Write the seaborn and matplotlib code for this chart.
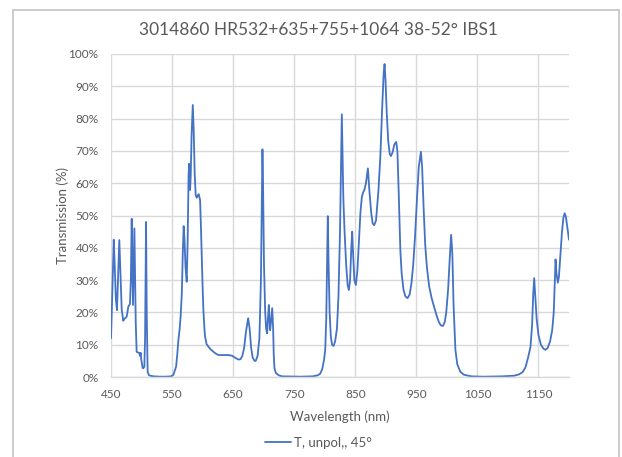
import matplotlib
matplotlib.use("Agg")
import matplotlib.pyplot as plt
from matplotlib.patches import Rectangle
from matplotlib.ticker import PercentFormatter, MultipleLocator
import seaborn as sns
import pandas as pd

# Measured transmission spectrum (wavelength in nm, transmission in %)
wavelength = [
    450, 452, 454.5, 456, 458, 459.8, 461.5, 463.6, 465.5, 467.5, 470, 472, 475.7,
    478.4, 481, 482.5, 483.9, 485, 486, 487.2, 488.3, 489.5, 490.5, 492, 494, 496.4,
    497.5, 498.6, 499.5, 501.8, 503, 504.6, 505.8, 507.4, 508.5, 510, 512, 514, 520,
    530, 540, 548, 552, 556.6, 558.5, 560.4, 562.5, 564, 566, 567.5, 569, 570.5, 572,
    574, 575.5, 577, 577.9, 578.8, 579.5, 580.5, 582, 583.9, 585.5, 587, 588.7, 590.5,
    592, 593.6, 595.9, 597.5, 598.6, 600, 601.3, 603, 604, 606.5, 609.5, 613, 617.7,
    622, 626, 635, 642, 648, 653, 658.7, 662, 665, 668, 671, 674.6, 677, 679.5, 682,
    685, 687, 690, 693, 695.5, 697, 698, 699, 700.5, 702.5, 704, 705.7, 707, 708.5,
    709.5, 710.6, 712, 714, 715.5, 716.5, 717.7, 720, 725, 730, 760, 780, 788, 792.6,
    796, 799, 800.8, 802.5, 803.8, 805, 806.3, 808, 810, 812, 814.3, 817, 820, 822.5,
    825, 827, 828, 829, 830.5, 832.5, 835, 837.5, 839.5, 841.5, 843.5, 845, 846.5,
    848.5, 851, 853.5, 856, 858.5, 860.8, 863, 865, 867.5, 870.7, 873, 876, 878.5,
    881, 884, 886, 888, 891, 894, 896.5, 898, 899.5, 901.5, 904, 906.5, 908.4, 911,
    914, 917, 919, 921, 923.8, 926, 929, 932, 935.6, 939, 942, 945, 948, 951, 954,
    957.5, 959.5, 962, 964.5, 967.3, 971, 975, 978.2, 983.7, 987, 990, 993.5, 996.5,
    999, 1002, 1004.5, 1007, 1009, 1011, 1014, 1017, 1022, 1028, 1040, 1060, 1090,
    1110, 1118, 1124, 1128.7, 1133, 1137, 1139.5, 1141.5, 1143, 1144.5, 1147, 1150,
    1154, 1158, 1161.5, 1165, 1169, 1172.5, 1175, 1176.8, 1178, 1179.5, 1181.7,
    1183.5, 1186, 1188.5, 1191, 1193, 1195, 1197.5, 1200,
]
transmission = [
    12.0, 25, 42.5, 35, 24, 20.7, 30, 42.4, 32, 21, 17.4, 18, 18.7,
    21.8, 22.6, 30, 49, 35, 22.3, 35, 46, 30, 17, 7.8, 7.6, 7.4,
    6.5, 7.5, 5.5, 2.8, 2.7, 3.2, 12, 48, 20, 1.6, 0.6, 0.4, 0.2,
    0.1, 0.1, 0.2, 0.6, 3.2, 7, 11.5, 15, 18.7, 26, 38, 46.7, 42, 34,
    29.5, 42, 62, 66, 60, 57.9, 62, 75, 84.2, 76, 63, 56.3, 55.5,
    56.2, 56.6, 54.8, 45, 37, 28, 20.7, 15, 12.5, 10.2, 9.4, 8.6, 7.8,
    7.2, 6.8, 6.8, 6.8, 6.6, 6.0, 5.4, 5.5, 6.5, 9, 14, 18.2, 15, 9, 6,
    5, 5, 6.5, 12, 30, 55, 70.5, 60, 35, 20, 15, 13.5, 18, 22.3,
    18, 14.5, 17, 21.3, 15, 7, 2.7, 1.2, 0.5, 0.2, 0.1, 0.2, 0.5, 1.0,
    2.5, 5.5, 8.4, 18, 35, 49.8, 35, 20, 12.5, 10, 9.6, 11, 15, 25,
    45, 70, 81.3, 70, 55, 45, 35, 28.5, 26.9, 30, 40, 45, 38,
    30, 28.5, 33, 42, 51, 55.8, 57.2, 57.9, 60, 64.6, 58, 51, 47.5,
    47, 48.5, 53, 57.9, 68, 83, 94, 96.9, 92, 82, 73, 69, 68.4, 69.5,
    72, 72.8, 70, 58, 39.3, 32, 27, 25, 24.4, 25.5, 29, 35, 44, 55, 65,
    69.7, 65, 52, 41, 34, 28, 24.5, 22.3, 18.7, 17, 16, 15.8, 17,
    20, 27, 36, 44, 38, 22, 8.4, 4, 1.6, 0.7, 0.2, 0.1, 0.2,
    0.4, 0.8, 1.5, 3, 6, 9.4, 16, 26, 30.6, 26, 18, 13,
    10, 8.8, 8.4, 9, 11, 14.5, 20, 30, 36.4, 32, 29.2,
    31, 38, 45, 49.5, 50.7, 49.5, 46, 42.5,
]

x_ticks = [450, 550, 650, 750, 850, 950, 1050, 1150]
title = "3014860 HR532+635+755+1064 38-52° IBS1"
series_label = "T, unpol,, 45°"

df = pd.DataFrame({"Wavelength (nm)": wavelength, "Transmission (%)": transmission})

sns.set_theme(style="white")
plt.rcParams["font.family"] = ["Lato", "DejaVu Sans"]

text_grey = "#595959"
grid_grey = "#d9d9d9"
line_blue = "#4472C4"

fig = plt.figure(figsize=(6.22, 4.57), dpi=100)
fig.patch.set_facecolor("white")
ax = fig.add_axes([111 / 622, 1 - 377 / 457, (569 - 111) / 622, (377 - 54) / 457])

sns.lineplot(data=df, x="Wavelength (nm)", y="Transmission (%)", ax=ax,
             color=line_blue, linewidth=1.3, estimator=None, sort=False,
             label=series_label, legend=False)

ax.set_xlim(450, 1200)
ax.set_ylim(0, 100)
ax.set_xticks(x_ticks)
ax.yaxis.set_major_locator(MultipleLocator(10))
ax.yaxis.set_major_formatter(PercentFormatter(xmax=100, decimals=0))

ax.grid(True, color=grid_grey, linewidth=1.0)
ax.set_axisbelow(True)
for side in ["top", "right", "left"]:
    ax.spines[side].set_visible(False)
ax.spines["bottom"].set_color(grid_grey)
ax.spines["bottom"].set_linewidth(1.0)

ax.tick_params(axis="both", length=0, labelsize=8.5, labelcolor=text_grey)
ax.tick_params(axis="y", pad=9)
ax.tick_params(axis="x", pad=9)

ax.set_xlabel("Wavelength (nm)", fontsize=9.5, color=text_grey, labelpad=7)
ax.set_ylabel("Transmission (%)", fontsize=9.5, color=text_grey)
ax.yaxis.set_label_coords(-0.092, 0.5)

fig.text(318 / 622, 1 - 30 / 457, title, ha="center", va="center",
         fontsize=12.5, color=text_grey)

# Legend below the axes, centred in the chart frame
handle = ax.get_lines()[0]
fig.legend([handle], [series_label], loc="center", bbox_to_anchor=(318 / 622, 1 - 443 / 457),
           frameon=False, fontsize=9.5, labelcolor=text_grey, handlelength=2.0,
           handletextpad=0.2)

# Chart-area frame
fig.add_artist(Rectangle((12.5 / 622, -0.05), (619 - 12.5) / 622, 1 - 10 / 457 + 0.05,
                         transform=fig.transFigure, fill=False,
                         edgecolor="#c8c8c8", linewidth=1.3))

fig.savefig("out.png", dpi=100, facecolor="white")
